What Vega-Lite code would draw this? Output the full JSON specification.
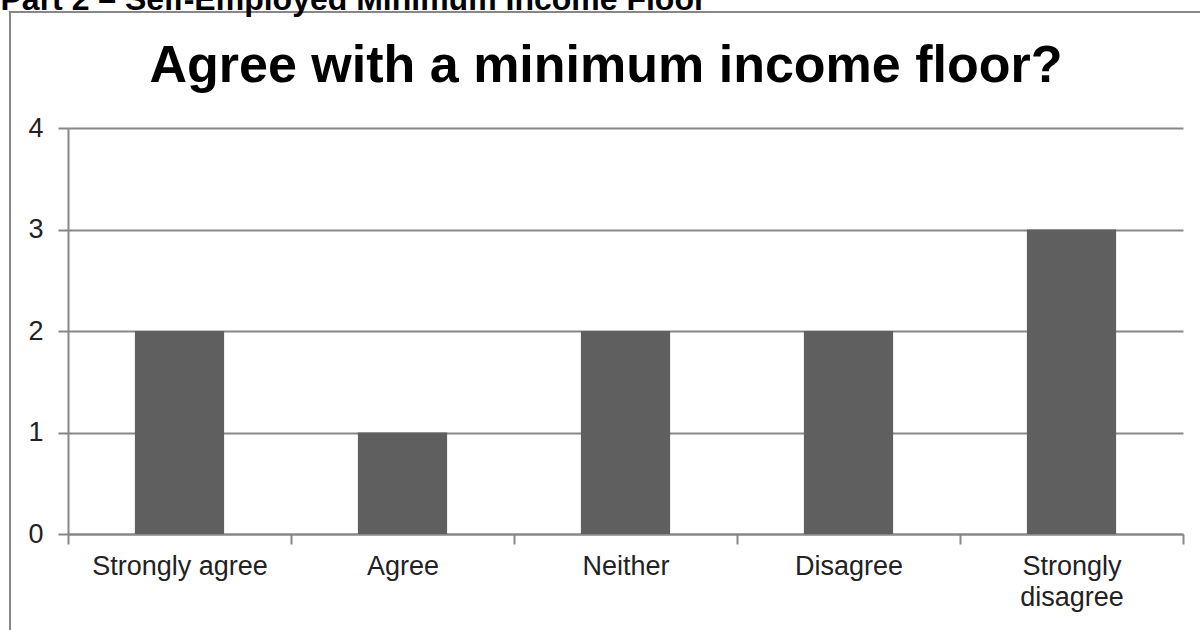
{
  "$schema": "https://vega.github.io/schema/vega-lite/v6.json",
  "width": 1192,
  "height": 620,
  "autosize": {"type": "none"},
  "padding": {"left": 10, "top": 12, "right": -2, "bottom": -2},
  "background": "white",
  "title": {
    "text": "Agree with a minimum income floor?",
    "frame": "group",
    "anchor": "middle",
    "font": "Liberation Sans",
    "fontSize": 52,
    "fontWeight": "bold",
    "color": "#000000",
    "offset": -151,
    "baseline": "alphabetic"
  },
  "config": {
    "font": "Liberation Sans",
    "view": {"stroke": "#878787", "strokeWidth": 2}
  },
  "data": {
    "values": [
      {"response": "Strongly agree", "count": 2},
      {"response": "Agree", "count": 1},
      {"response": "Neither", "count": 2},
      {"response": "Disagree", "count": 2},
      {"response": "Strongly disagree", "count": 3}
    ]
  },
  "mark": {"type": "bar", "color": "#5f5f5f", "width": {"band": 0.4}},
  "encoding": {
    "x": {
      "field": "response",
      "type": "nominal",
      "sort": null,
      "scale": {"range": [58, 1173], "paddingInner": 0, "paddingOuter": 0},
      "axis": {
        "title": null,
        "offset": -98,
        "tickBand": "extent",
        "tickSize": 10,
        "tickColor": "#878787",
        "tickWidth": 2,
        "domainColor": "#878787",
        "domainWidth": 2,
        "grid": false,
        "labelFont": "Liberation Sans",
        "labelFontSize": 27,
        "labelColor": "#222222",
        "labelPadding": 9,
        "labelAngle": 0,
        "labelLimit": 0,
        "labelLineHeight": 31,
        "labelExpr": "datum.label == 'Strongly disagree' ? ['Strongly', 'disagree'] : datum.label"
      }
    },
    "y": {
      "field": "count",
      "type": "quantitative",
      "scale": {"domain": [0, 4], "range": [522, 116], "nice": false, "zero": true},
      "axis": {
        "title": "Part 2 – Self-Employed Minimum Income Floor",
        "titleAngle": 0,
        "titleX": -68,
        "titleY": -3,
        "titleAlign": "left",
        "titleBaseline": "alphabetic",
        "titleFont": "Liberation Sans",
        "titleFontSize": 32,
        "titleFontWeight": "bold",
        "titleColor": "#000000",
        "offset": -58,
        "values": [0, 1, 2, 3, 4],
        "format": "d",
        "tickSize": 10,
        "tickColor": "#878787",
        "tickWidth": 2,
        "domainColor": "#878787",
        "domainWidth": 2,
        "grid": true,
        "gridColor": "#878787",
        "gridWidth": 2,
        "labelFont": "Liberation Sans",
        "labelFontSize": 27,
        "labelPadding": 15,
        "labelColor": "#222222"
      }
    }
  }
}
